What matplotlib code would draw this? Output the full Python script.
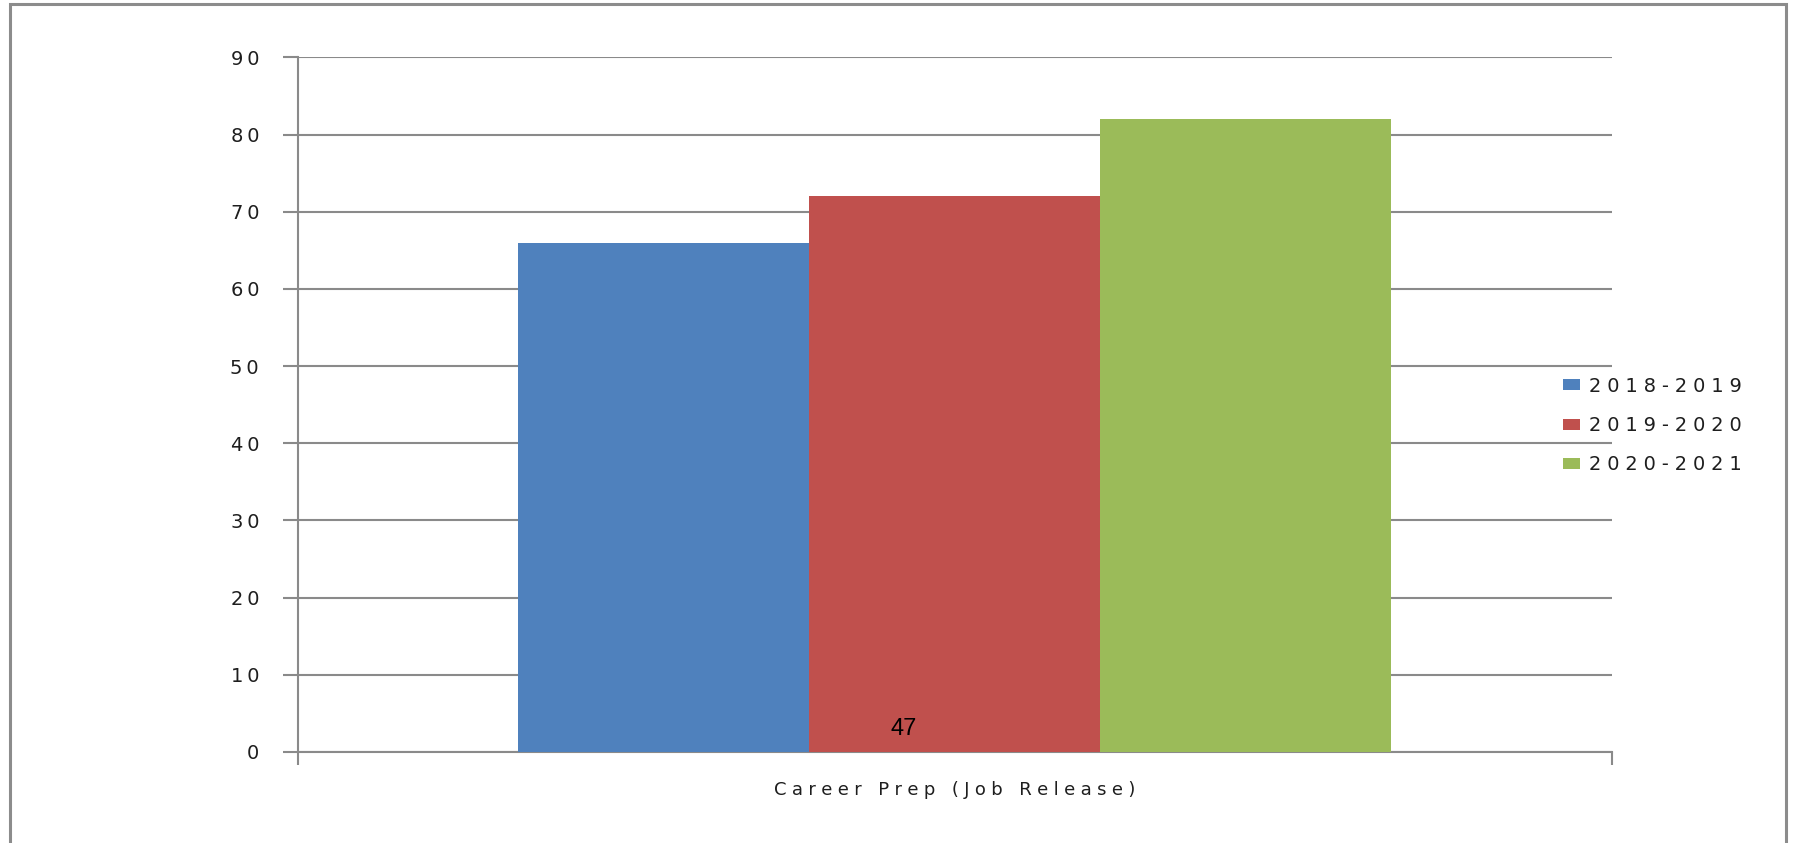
import matplotlib.pyplot as plt
from matplotlib.patches import Rectangle

# Chart data
category = 'Career Prep (Job Release)'
series_names = ['2018-2019', '2019-2020', '2020-2021']
series_values = [66, 72, 82]
series_colors = ['#4F81BD', '#C0504D', '#9BBB59']
y_ticks = [0, 10, 20, 30, 40, 50, 60, 70, 80, 90]
page_number = '47'


def spaced(s, gap='\u2009'):
    # the original chart font is wide with loose letter spacing
    return gap.join(s)


fig = plt.figure(figsize=(17.95, 8.43), dpi=100)
ax = fig.add_axes([0.166, 0.108, 0.732, 0.824])

# Outer chart frame
fig.patches.append(Rectangle((10 / 1795, -0.01), 1776 / 1795, 1 - 4 / 843 + 0.01,
                             transform=fig.transFigure, fill=False,
                             edgecolor='#8c8c8c', linewidth=2.2))

bar_width = 0.2215
offsets = [-bar_width, 0, bar_width]
for name, val, col, off in zip(series_names, series_values, series_colors, offsets):
    ax.bar(off, val, width=bar_width, color=col, label=spaced(name, '\u2009\u200a'), zorder=3)

ax.set_xlim(-0.5, 0.5)
ax.set_ylim(0, 90)
ax.set_yticks(y_ticks)
ax.set_yticklabels([spaced(str(t)) for t in y_ticks], fontsize=14, color='#1e1e1e')
ax.grid(axis='y', color='#8a8a8a', linewidth=1.5, zorder=0)

for side in ['top', 'right']:
    ax.spines[side].set_visible(False)
for side in ['left', 'bottom']:
    ax.spines[side].set_color('#8a8a8a')
    ax.spines[side].set_linewidth(1.5)

ax.tick_params(axis='y', direction='out', length=11, width=1.5, color='#8a8a8a', pad=17)
ax.set_xticks([-0.5, 0.5])
ax.set_xticklabels(['', ''])
ax.tick_params(axis='x', direction='out', length=9, width=1.5, color='#8a8a8a')

ax.text(0, -0.055, spaced(category, '\u2009\u200a'), transform=ax.get_xaxis_transform(),
        ha='center', va='center', fontsize=13, color='#1e1e1e')

ax.text(-0.0390, 3.0, page_number, ha='center', va='center', fontsize=17,
        family='Liberation Sans', color='black', zorder=5)

leg = ax.legend(loc='center left', bbox_to_anchor=(0.963, 0.47), frameon=False,
                fontsize=14, handlelength=0.85, handleheight=0.5, handletextpad=0.45,
                labelspacing=1.05, borderaxespad=0, borderpad=0)
for t in leg.get_texts():
    t.set_color('#1e1e1e')

fig.savefig('out.png', dpi=100)
